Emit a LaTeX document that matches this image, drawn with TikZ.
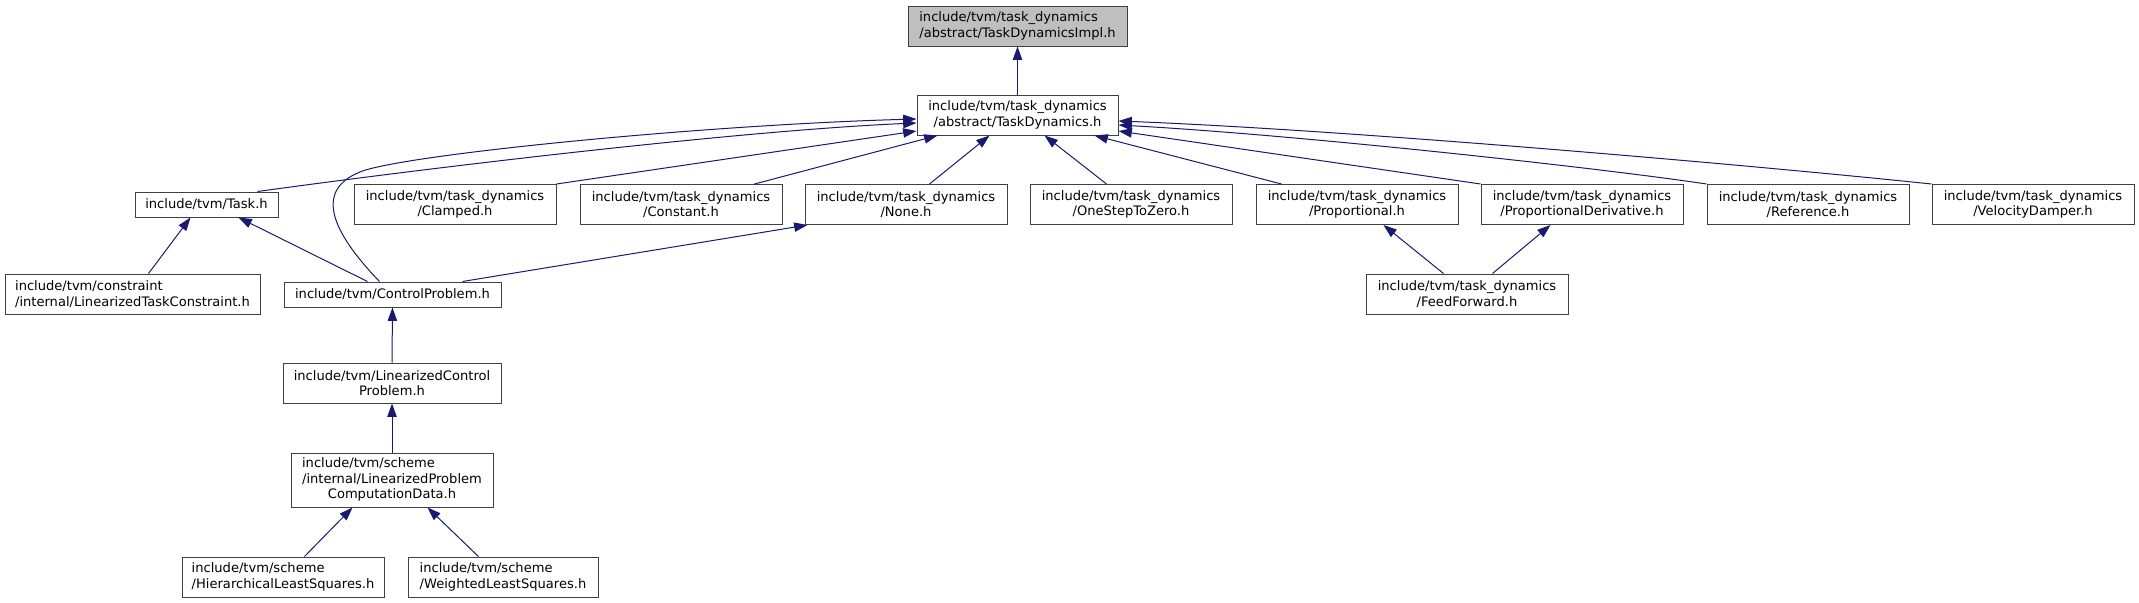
\documentclass[tikz,border=0pt]{standalone}
\usepackage{fontspec}
\newfontfamily\djsans{DejaVu Sans}
\usetikzlibrary{arrows.meta,calc}
\definecolor{edgeblue}{RGB}{25,25,112}
\definecolor{rootgray}{RGB}{191,191,191}
\definecolor{boxline}{RGB}{64,64,64}
\begin{document}
\begin{tikzpicture}[x=0.75pt,y=-0.75pt,
  box/.style={draw=boxline, line width=0.75pt, fill=white, inner sep=0pt,
    font=\djsans\fontsize{9.8pt}{11.5pt}\selectfont, text=black},
  dbl/.style={minimum height=30pt},
  sgl/.style={minimum height=18.75pt},
  rowbox/.style={box, minimum width=151.5pt, dbl, align=center},
  edge/.style={draw=edgeblue, line width=0.75pt, -{Triangle[length=10pt,width=7pt]}},
]
\useasboundingbox (0,0) rectangle (2139,603);

% nodes
\node[box, fill=rootgray, minimum width=164.25pt, dbl, align=left] (impl) at (1017.5,26)
  {include/tvm/task\_dynamics\\/abstract/TaskDynamicsImpl.h};
\node[box, minimum width=150.75pt, dbl, align=center] (td) at (1017.5,115)
  {include/tvm/task\_dynamics\\/abstract/TaskDynamics.h};
\node[box, minimum width=107.25pt, sgl] (task) at (206.5,204.5) {include/tvm/Task.h};
\node[rowbox] (clamped) at (455,204.5) {include/tvm/task\_dynamics\\/Clamped.h};
\node[rowbox] (constant) at (681,204.5) {include/tvm/task\_dynamics\\/Constant.h};
\node[rowbox] (none) at (906,204.5) {include/tvm/task\_dynamics\\/None.h};
\node[rowbox] (onestep) at (1131,204.5) {include/tvm/task\_dynamics\\/OneStepToZero.h};
\node[rowbox] (prop) at (1357,204.5) {include/tvm/task\_dynamics\\/Proportional.h};
\node[rowbox] (pd) at (1582,204.5) {include/tvm/task\_dynamics\\/ProportionalDerivative.h};
\node[rowbox] (ref) at (1808,204.5) {include/tvm/task\_dynamics\\/Reference.h};
\node[rowbox] (vd) at (2033,204.5) {include/tvm/task\_dynamics\\/VelocityDamper.h};
\node[box, minimum width=191.25pt, dbl, align=left] (ltc) at (132.5,294)
  {include/tvm/constraint\\/internal/LinearizedTaskConstraint.h};
\node[box, minimum width=162.75pt, sgl] (cp) at (392.5,294.5) {include/tvm/ControlProblem.h};
\node[rowbox] (ff) at (1467,294) {include/tvm/task\_dynamics\\/FeedForward.h};
\node[box, minimum width=163.5pt, dbl, align=center] (lcp) at (392,383)
  {include/tvm/LinearizedControl\\Problem.h};
\node[box, minimum width=151.5pt, minimum height=40.5pt] (lpcd) at (392,480)
  {\begin{tabular}{@{}l@{}}include/tvm/scheme\\/internal/LinearizedProblem\\\multicolumn{1}{@{}c@{}}{ComputationData.h}\end{tabular}};
\node[box, minimum width=151.5pt, dbl, align=left] (hier) at (283,577)
  {include/tvm/scheme\\/HierarchicalLeastSquares.h};
\node[box, minimum width=142.5pt, dbl, align=left] (weighted) at (503,577)
  {include/tvm/scheme\\/WeightedLeastSquares.h};

% edges
\draw[edge] (td.north) -- (impl.south);
\draw[edge] ($(task.north east)+(-21,0)$) .. controls (450,165) and (750,130) .. ($(td.west)+(0,8)$);
\draw[edge] ($(cp.north west)+(96,0)$) .. controls (330,230) and (315,190) .. (360,172)
  .. controls (400,155) and (700,125) .. ($(td.west)+(0,4)$);
\draw[edge] (clamped.north east) -- ($(td.west)+(0,16)$);
\draw[edge] ($(constant.north west)+(175,0)$) -- ($(td.south west)+(21,0)$);
\draw[edge] ($(none.north west)+(125,0)$) -- ($(td.south west)+(73,0)$);
\draw[edge] ($(onestep.north west)+(77,0)$) -- ($(td.south west)+(128,0)$);
\draw[edge] ($(prop.north west)+(26,0)$) -- ($(td.south west)+(178,0)$);
\draw[edge] (pd.north west) -- ($(td.east)+(0,16)$);
\draw[edge] (ref.north west) .. controls (1600,168) and (1300,135) .. ($(td.east)+(0,10)$);
\draw[edge] (vd.north west) .. controls (1750,165) and (1350,130) .. ($(td.east)+(0,6)$);
\draw[edge] ($(cp.north west)+(84,0)$) -- ($(task.south west)+(104,0)$);
\draw[edge] ($(ltc.north west)+(144,0)$) -- ($(task.south west)+(56,0)$);
\draw[edge] ($(cp.north west)+(179,0)$) -- ($(none.south west)+(3,0)$);
\draw[edge] ($(ff.north west)+(78,0)$) -- ($(prop.south west)+(128,0)$);
\draw[edge] ($(ff.north west)+(127,0)$) -- ($(pd.south west)+(70,0)$);
\draw[edge] (lcp.north) -- (cp.south);
\draw[edge] (lpcd.north) -- (lcp.south);
\draw[edge] ($(hier.north west)+(123,0)$) -- ($(lpcd.south west)+(62,0)$);
\draw[edge] ($(weighted.north west)+(71,0)$) -- ($(lpcd.south west)+(137,0)$);
\end{tikzpicture}
\end{document}
